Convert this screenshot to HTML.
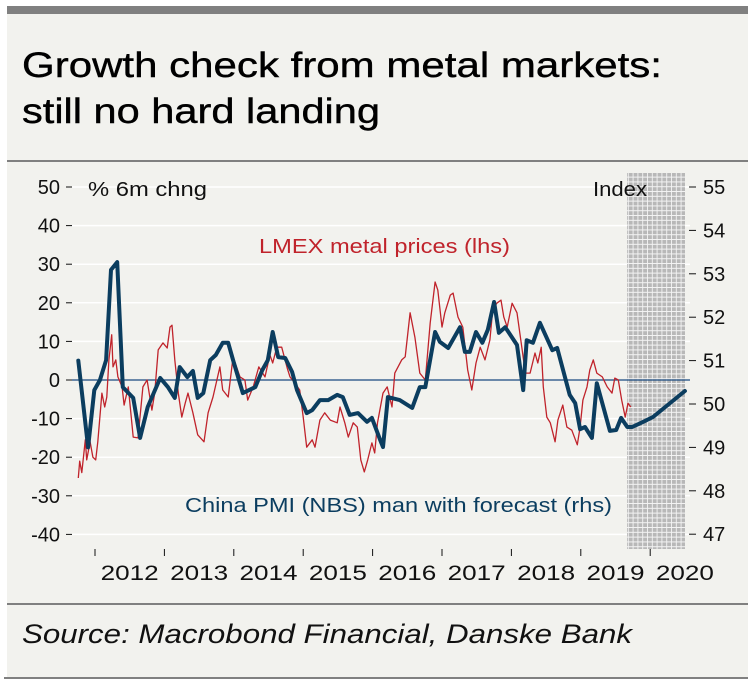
<!DOCTYPE html>
<html><head><meta charset="utf-8"><style>
html,body{margin:0;padding:0;background:#fff;width:753px;height:690px;overflow:hidden}
svg{display:block;font-family:"Liberation Sans",sans-serif}
</style></head><body>
<svg id="chart" width="753" height="690">
<defs>
<pattern id="hatch" width="4.8" height="4.8" patternUnits="userSpaceOnUse">
<rect width="4.8" height="4.8" fill="#b8b8b8"/>
<path d="M0 4.3H4.8M4.3 0V4.8" stroke="#f4f4f4" stroke-width="0.9"/>
</pattern>
</defs>
<rect x="7" y="6" width="741" height="672" fill="#f2f2ee"/>
<rect x="7" y="6" width="741" height="8" fill="#808080"/>
<rect x="7" y="160" width="741" height="2" fill="#808080"/>
<rect x="7" y="603" width="741" height="2" fill="#808080"/>
<rect x="4" y="677" width="744" height="2" fill="#808080"/>
<text x="22" y="77" font-size="35" fill="#000" stroke="#000" stroke-width="0.4" textLength="640" lengthAdjust="spacingAndGlyphs">Growth check from metal markets:</text>
<text x="22" y="123" font-size="35" fill="#000" stroke="#000" stroke-width="0.4" textLength="358" lengthAdjust="spacingAndGlyphs">still no hard landing</text>
<text x="22" y="643" font-size="27" font-style="italic" fill="#111" textLength="610" lengthAdjust="spacingAndGlyphs">Source: Macrobond Financial, Danske Bank</text>
<g id="grid"></g>
<rect x="627" y="173" width="58" height="376" fill="url(#hatch)"/>
<g id="marks"></g>
<text x="88" y="196" font-size="20" fill="#111" textLength="119" lengthAdjust="spacingAndGlyphs">% 6m chng</text>
<text x="593" y="196" font-size="20" fill="#111" textLength="54" lengthAdjust="spacingAndGlyphs">Index</text>
<text x="259" y="253" font-size="20" fill="#c0232b" textLength="251" lengthAdjust="spacingAndGlyphs">LMEX metal prices (lhs)</text>
<text x="185" y="512" font-size="20" fill="#0b3d5f" textLength="427" lengthAdjust="spacingAndGlyphs">China PMI (NBS) man with forecast (rhs)</text>
</svg>
<script>
const leftTicks=[50,40,30,20,10,0,-10,-20,-30,-40];
const rightTicks=[55,54,53,52,51,50,49,48,47];
const years=[2012,2013,2014,2015,2016,2017,2018,2019,2020];
const pmiDates=[2011.76,2011.90,2011.99,2012.07,2012.16,2012.23,2012.32,2012.40,2012.55,2012.65,2012.76,2012.94,2013.05,2013.15,2013.22,2013.33,2013.41,2013.48,2013.56,2013.66,2013.74,2013.84,2013.92,2013.99,2014.13,2014.31,2014.41,2014.49,2014.56,2014.64,2014.74,2014.84,2014.91,2015.05,2015.13,2015.24,2015.36,2015.49,2015.57,2015.67,2015.79,2015.92,2015.99,2016.11,2016.15,2016.22,2016.39,2016.57,2016.68,2016.76,2016.90,2016.97,2017.09,2017.26,2017.33,2017.40,2017.49,2017.58,2017.66,2017.75,2017.82,2017.91,2018.08,2018.17,2018.22,2018.31,2018.41,2018.59,2018.66,2018.84,2018.92,2018.99,2019.06,2019.16,2019.23,2019.42,2019.51,2019.58,2019.67,2019.74,2019.90,2020.04,2020.50];
const pmiValues=[51.0,49.0,50.32,50.55,51.01,53.09,53.27,50.39,50.14,49.22,49.93,50.6,50.39,50.14,50.85,50.62,50.76,50.14,50.25,51.01,51.13,51.41,51.41,51.01,50.25,50.39,50.78,51.01,51.66,51.08,51.06,50.74,50.32,49.79,49.86,50.09,50.09,50.21,50.16,49.75,49.79,49.59,49.68,49.17,49.01,50.16,50.09,49.91,50.39,50.39,51.66,51.43,51.29,51.77,51.2,51.2,51.66,51.41,51.71,52.35,51.64,51.77,51.36,50.32,51.47,51.41,51.87,51.24,51.29,50.21,50.02,49.42,49.47,49.22,50.48,49.38,49.4,49.68,49.47,49.47,49.59,49.7,50.3];
const lmexDates=[2011.76,2011.78,2011.81,2011.86,2011.88,2011.93,2011.97,2012.01,2012.04,2012.10,2012.14,2012.17,2012.20,2012.24,2012.26,2012.30,2012.33,2012.39,2012.42,2012.48,2012.55,2012.62,2012.69,2012.75,2012.82,2012.86,2012.91,2012.98,2013.04,2013.08,2013.11,2013.15,2013.20,2013.25,2013.30,2013.34,2013.41,2013.48,2013.57,2013.63,2013.70,2013.80,2013.84,2013.92,2013.99,2014.09,2014.16,2014.20,2014.28,2014.36,2014.45,2014.52,2014.56,2014.62,2014.69,2014.77,2014.81,2014.88,2014.95,2015.00,2015.05,2015.13,2015.17,2015.24,2015.31,2015.39,2015.49,2015.53,2015.60,2015.65,2015.72,2015.78,2015.83,2015.88,2015.93,2015.99,2016.03,2016.07,2016.15,2016.21,2016.28,2016.32,2016.42,2016.47,2016.54,2016.61,2016.68,2016.76,2016.83,2016.90,2016.94,2017.00,2017.04,2017.12,2017.16,2017.23,2017.30,2017.37,2017.43,2017.49,2017.55,2017.62,2017.69,2017.73,2017.79,2017.85,2017.89,2017.94,2018.01,2018.08,2018.15,2018.20,2018.27,2018.34,2018.38,2018.43,2018.46,2018.51,2018.56,2018.63,2018.67,2018.74,2018.80,2018.87,2018.95,2018.99,2019.03,2019.09,2019.13,2019.18,2019.23,2019.31,2019.38,2019.45,2019.49,2019.54,2019.59,2019.64,2019.68,2019.72];
const lmexValues=[-25.4,-21,-24,-15.5,-20.7,-16,-20,-20.7,-16,-3.4,-7,-4.4,5.2,11.7,3.4,5.2,0.8,-1.8,-6.5,-1.8,-14.8,-15,-1.8,0,-7.8,-3.4,7.8,9.6,8.3,13.7,14.2,5.2,-3.4,-9.6,-6,-3.4,-8.5,-14.2,-16,-8.5,-4.4,3.4,-2.6,-4.4,6,0.8,0,-5.2,-1.8,3.4,0.8,6.5,4.4,8.5,8.5,3.1,0.8,-0.8,-2.6,-9.6,-17.4,-15.5,-17.4,-10.4,-8.5,-10.4,-11.1,-7,-11.1,-14.8,-11.1,-12.2,-20.7,-23.8,-20.7,-16.3,-18.9,-11.1,-3.4,-1.8,-7,1.8,5.2,6,17.4,11.1,1.8,0,14.8,25.4,23.3,13.7,17.4,22,22.5,16.3,13.7,2.6,-2.6,4.4,8.5,5.2,10.4,18.1,19.9,20.7,16.3,13.7,19.9,17.4,8.5,1.8,1.8,7,4.4,8.5,-1.8,-9.6,-11.1,-16,-10.4,-6.5,-12.2,-13,-16.8,-12.2,-5.2,-1.8,2.6,5.2,1.8,0.8,-1.8,-3.4,0.5,0,-5.2,-9.6,-6,-7];
const NS='http://www.w3.org/2000/svg';
const xS=t=>95+(t-2012)*69.4;
const yL=v=>380-v*3.86;
const yR=p=>404-(p-50)*43.4;
const grid=document.getElementById('grid'), marks=document.getElementById('marks'), svg=document.getElementById('chart');
function mk(tag,attrs,parent){const e=document.createElementNS(NS,tag);for(const k in attrs)e.setAttribute(k,attrs[k]);parent.appendChild(e);return e;}
leftTicks.forEach(v=>{
  const y=yL(v);
  if(v!==0){const g=mk('line',{x1:72,x2:690,y1:y,y2:y,stroke:'#ffffff','stroke-width':1.5},grid);
  
  }
  const t=mk('line',{x1:66,x2:72,y1:y,y2:y,stroke:'#111','stroke-width':1},grid);
  
  
  const l=mk('text',{x:60,y:y+7,'font-size':20,'text-anchor':'end',fill:'#111'},svg);
  l.textContent=v;
  
  
});
rightTicks.forEach(p=>{
  const y=yR(p);
  const t=mk('line',{x1:689,x2:696,y1:y,y2:y,stroke:'#111','stroke-width':1},grid);
  
  
  const l=mk('text',{x:703,y:y+7,'font-size':20,fill:'#111'},svg);
  l.textContent=p;
  
  
});
years.forEach(yr=>{
  const x=xS(yr);
  const t=mk('line',{x1:x,x2:x,y1:549,y2:556,stroke:'#111','stroke-width':1},grid);
  
  
  const l=mk('text',{x:x+34.7,y:580,'font-size':21,'text-anchor':'middle',fill:'#111',textLength:58,lengthAdjust:'spacingAndGlyphs'},svg);
  l.textContent=yr;
  
  
});
const z=mk('line',{x1:72,x2:690,y1:yL(0),y2:yL(0),stroke:'#1a4a80','stroke-width':1.2},marks);


const red=mk('polyline',{points:lmexDates.map((d,i)=>xS(d).toFixed(1)+','+yL(lmexValues[i]).toFixed(1)).join(' '),fill:'none',stroke:'#c0232b','stroke-width':1.3,'stroke-linejoin':'round'},marks);


const blue=mk('polyline',{points:pmiDates.map((d,i)=>xS(d).toFixed(1)+','+yR(pmiValues[i]).toFixed(1)).join(' '),fill:'none',stroke:'#0b3d5f','stroke-width':4,'stroke-linejoin':'round','stroke-linecap':'round'},marks);


</script>
</body></html>
